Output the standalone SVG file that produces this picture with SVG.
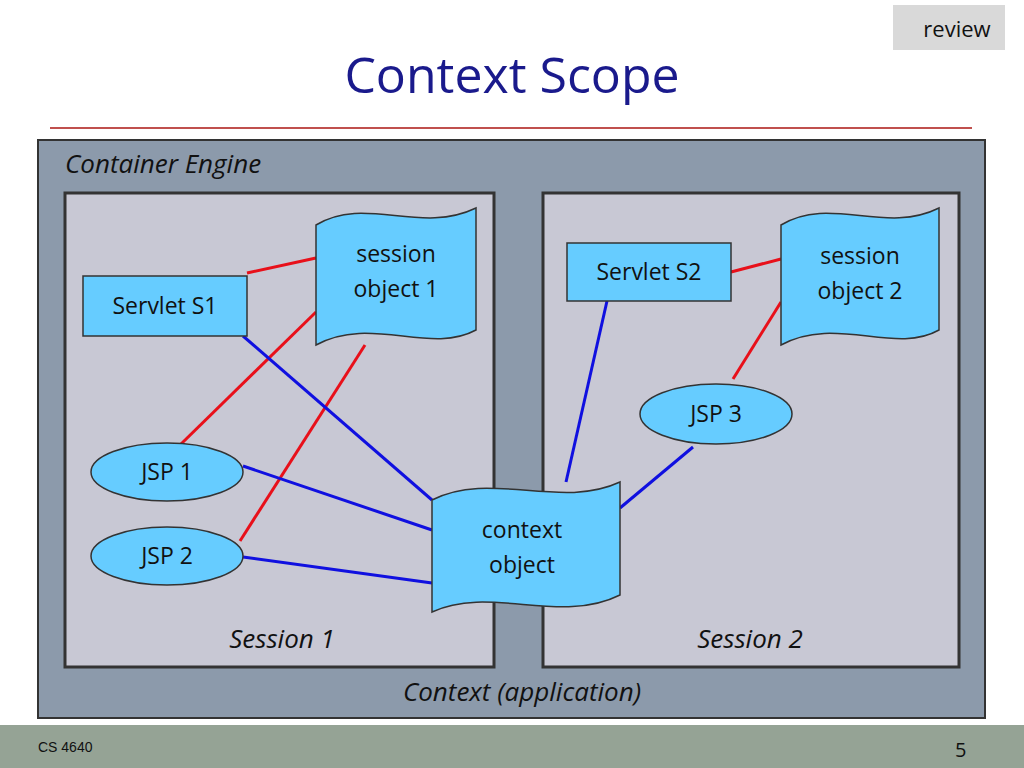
<svg xmlns="http://www.w3.org/2000/svg" width="1024" height="768" viewBox="0 0 1024 768">
<style>
text{font-family:"Open Sans","Liberation Sans",sans-serif;fill:#111}
.n{fill:#66ccff;stroke:#333;stroke-width:1.5}
.t{font-size:23px;text-anchor:middle}
.i{font-style:italic;font-size:26px}
.r{stroke:#e8101a;stroke-width:3}
.b{stroke:#1010e0;stroke-width:3}
</style>
<rect width="1024" height="768" fill="#fff"/>
<rect x="893" y="5" width="112" height="45" fill="#d9d9d9"/>
<text x="957" y="37" font-size="22" text-anchor="middle">review</text>
<text x="512" y="93" font-size="50" text-anchor="middle" style="fill:#1a1a8c">Context Scope</text>
<line x1="50" y1="128" x2="972" y2="128" stroke="#c0504d" stroke-width="2"/>
<rect x="38" y="140" width="947" height="578" fill="#8c9aab" stroke="#333" stroke-width="2"/>
<text x="65" y="173" class="i">Container Engine</text>
<g id="session1"><rect x="65" y="193" width="429" height="474" fill="#c8c8d4" stroke="#333" stroke-width="3"/>
<text x="282" y="648" class="i" text-anchor="middle">Session 1</text></g>
<g id="session2"><rect x="543" y="193" width="416" height="474" fill="#c8c8d4" stroke="#333" stroke-width="3"/>
<text x="750" y="648" class="i" text-anchor="middle">Session 2</text></g>
<text x="522" y="701" class="i" text-anchor="middle">Context (application)</text>
<g id="connectors">
<line class="r" x1="247" y1="273" x2="316" y2="258"/>
<line class="r" x1="180" y1="445" x2="316" y2="312"/>
<line class="r" x1="240" y1="541" x2="365" y2="345"/>
<line class="r" x1="731" y1="272" x2="781" y2="259"/>
<line class="r" x1="733" y1="379" x2="781" y2="302"/>
<line class="b" x1="243" y1="336" x2="432" y2="500"/>
<line class="b" x1="243" y1="466" x2="432" y2="530"/>
<line class="b" x1="243" y1="557" x2="432" y2="583"/>
<line class="b" x1="607" y1="301" x2="566" y2="482"/>
<line class="b" x1="693" y1="447" x2="620" y2="508"/>
</g>
<g id="servletS1"><rect class="n" x="83" y="276" width="164" height="60"/><text class="t" x="165" y="314">Servlet S1</text></g>
<g id="servletS2"><rect class="n" x="567" y="243" width="164" height="58"/><text class="t" x="649" y="280">Servlet S2</text></g>
<g id="session1obj"><path class="n" d="M316,225 C365,195 420,235 476,208 L476,330 C430,355 370,315 316,345 Z"/><text class="t" x="396" y="262">session</text><text class="t" x="396" y="297">object 1</text></g>
<g id="session2obj"><path class="n" d="M781,225 C830,195 885,235 939,208 L939,330 C895,355 835,315 781,345 Z"/><text class="t" x="860" y="264">session</text><text class="t" x="860" y="299">object 2</text></g>
<g id="contextobj"><path class="n" d="M432,500 C490,470 560,510 620,482 L620,595 C560,625 490,585 432,612 Z"/><text class="t" x="522" y="538">context</text><text class="t" x="522" y="573">object</text></g>
<g id="jsp1"><ellipse class="n" cx="167" cy="472" rx="76" ry="29"/><text class="t" x="167" y="480">JSP 1</text></g>
<g id="jsp2"><ellipse class="n" cx="167" cy="556" rx="76" ry="29"/><text class="t" x="167" y="564">JSP 2</text></g>
<g id="jsp3"><ellipse class="n" cx="716" cy="414" rx="76" ry="30"/><text class="t" x="716" y="422">JSP 3</text></g>
<rect x="0" y="725" width="1024" height="43" fill="#95a395"/>
<text x="38" y="752" font-size="14" style="font-family:'Liberation Sans',sans-serif">CS 4640</text>
<text x="955" y="757" font-size="20">5</text>
</svg>
